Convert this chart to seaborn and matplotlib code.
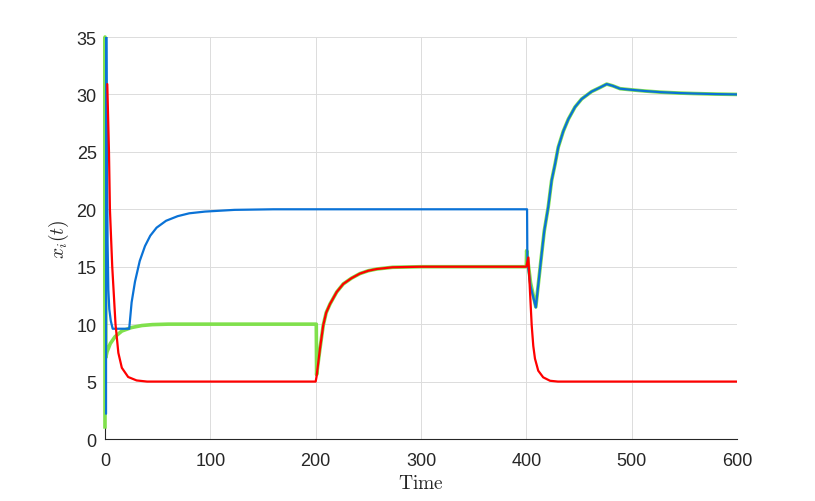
import matplotlib
matplotlib.use('Agg')
import matplotlib.pyplot as plt
import seaborn as sns
import pandas as pd

# ---- data ----
t_green = [0, 0.05, 0.8, 2, 5, 9.5, 16, 25, 35, 45, 60, 200, 200.6, 200.9,
           204, 207.2, 210, 213.6, 220, 226.2, 234, 242, 250, 258, 273, 300,
           400, 400.3, 404, 409, 413.8, 417, 420.8, 424, 427.2, 430.3, 435.1,
           439.9, 446.2, 452.5, 462, 469.9, 476.3, 482, 489, 500, 512, 527,
           545, 558.5, 580, 600]
x_green = [0.9, 35, 7.1, 7.6, 8.3, 8.9, 9.4, 9.7, 9.88, 9.96, 10, 10, 10, 5.6,
           7.8, 9.9, 11.0, 11.75, 12.8, 13.5, 14.0, 14.4, 14.65, 14.8, 14.95, 15.0,
           15.0, 16.4, 13.6, 11.5, 15.5, 18.1, 20.2, 22.5, 23.9, 25.4, 26.8,
           27.85, 28.9, 29.6, 30.25, 30.6, 30.9, 30.75, 30.5, 30.4, 30.3, 30.2,
           30.12, 30.08, 30.03, 30.0]

t_red = [2.2, 3.8, 4.7, 6.9, 10, 12.7, 16, 22, 30, 40, 200, 200.8, 204, 207.2,
         210, 213.6, 220, 226.2, 234, 242, 250, 258, 273, 300, 400, 401.9,
         403.5, 405.1, 406.6, 408.2, 411.3, 416, 422.5, 430, 600]
x_red = [30.9, 25, 20, 15, 10, 7.5, 6.2, 5.4, 5.1, 5.0, 5.0, 5.4, 7.8, 9.9,
         11.0, 11.75, 12.8, 13.5, 14.0, 14.4, 14.65, 14.8, 14.95, 15.0, 15.0, 15.8,
         12.8, 9.9, 8.1, 7.0, 5.95, 5.37, 5.07, 5.0, 5.0]

t_blue = [1.0, 1.1, 1.8, 2.5, 3.2, 4.1, 5.5, 7.3, 23, 25.3, 28.5, 33, 38, 43, 49, 58,
          69, 80, 95, 123, 160, 400, 400.7, 401, 404, 409, 413.8, 417, 420.8, 424,
          427.2, 430.3, 435.1, 439.9, 446.2, 452.5, 462, 469.9, 476.3, 482, 489,
          500, 512, 527, 545, 558.5, 580, 600]
x_blue = [2.2, 40, 25, 17, 13, 11.3, 10.3, 9.6, 9.6, 11.9, 13.7, 15.5, 16.8, 17.7, 18.4, 19.0,
          19.4, 19.65, 19.8, 19.95, 20.0, 20.0, 20.0, 15.5, 13.3, 11.46, 15.5, 18.1, 20.2, 22.5,
          23.9, 25.4, 26.8, 27.85, 28.9, 29.6, 30.25, 30.6, 30.9, 30.75, 30.5,
          30.4, 30.3, 30.2, 30.12, 30.08, 30.03, 30.0]

x_ticks = [0, 100, 200, 300, 400, 500, 600]
y_ticks = [0, 5, 10, 15, 20, 25, 30, 35]

sns.set_style('white')
plt.rcParams['font.family'] = ['Liberation Sans', 'DejaVu Sans']
plt.rcParams['mathtext.fontset'] = 'cm'

fig = plt.figure(figsize=(8.15, 5.02), dpi=100)
ax = fig.add_axes([0.1288, 0.1235, 0.7755, 0.8008])

df_g = pd.DataFrame({'t': t_green, 'x': x_green})
df_r = pd.DataFrame({'t': t_red, 'x': x_red})
df_b = pd.DataFrame({'t': t_blue, 'x': x_blue})

sns.lineplot(data=df_g, x='t', y='x', sort=False, estimator=None,
             color='#80E04C', linewidth=2.6, ax=ax, zorder=3, clip_on=False,
             solid_capstyle='butt')
sns.lineplot(data=df_b, x='t', y='x', sort=False, estimator=None,
             color='#0A72D6', linewidth=1.6, ax=ax, zorder=4)
sns.lineplot(data=df_r, x='t', y='x', sort=False, estimator=None,
             color='#FF0000', linewidth=1.6, ax=ax, zorder=5)

ax.set_xlim(0, 600)
ax.set_ylim(0, 35)
ax.set_xticks(x_ticks)
ax.set_yticks(y_ticks)
ax.grid(True, color='#DCDCDC', linewidth=0.7)
ax.set_axisbelow(True)

for side in ['top', 'right']:
    ax.spines[side].set_visible(False)
for side in ['left', 'bottom']:
    ax.spines[side].set_color('#262626')
    ax.spines[side].set_linewidth(0.8)

ax.tick_params(direction='in', length=4, width=0.8, colors='#262626',
               labelsize=13)
ax.tick_params(axis='x', pad=9)
ax.tick_params(axis='y', pad=6)
ax.set_xlabel(r'$\mathrm{Time}$', fontsize=14, color='#262626', labelpad=4)
ax.set_ylabel(r'$x_i(t)$', fontsize=14, color='#262626', labelpad=4)

fig.savefig('out.png', dpi=100)
